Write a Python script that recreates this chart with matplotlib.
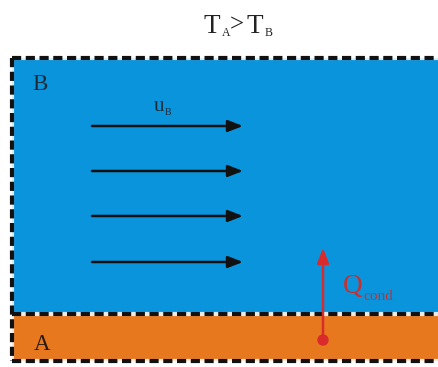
import matplotlib.pyplot as plt
from matplotlib.patches import Rectangle, Circle

# layer boundaries (pixel coords of the drawing)
left = 12
top_b = 58
interface = 314
bottom_a = 361
# flow arrows in layer B
flow_y = [126, 171, 216, 262]
flow_x0, flow_x1 = 92, 243
# conduction arrow
q_x = 323
q_y0, q_y1 = 340, 248

blue = '#0994DC'
orange = '#E8781E'
red = '#D92B2B'
ink = '#1c2a38'
serif = 'Liberation Serif'

fig = plt.figure(figsize=(4.39, 3.67), dpi=100)
ax = fig.add_axes([0, 0, 1, 1])
ax.set_xlim(0, 439)
ax.set_ylim(367, 0)
ax.axis('off')

ax.add_patch(Rectangle((left, top_b), 439 - left, interface - top_b, color=blue, lw=0))
ax.add_patch(Rectangle((left, interface), 439 - left, bottom_a - interface, color=orange, lw=0))

# dashed borders
def dashed(xs, ys):
    ax.plot(xs, ys, color='white', lw=3, solid_capstyle='butt', zorder=3, alpha=0.85)
    ax.plot(xs, ys, color='#111111', lw=3, dashes=(2.2, 1.1), zorder=4)

dashed([left, 439], [top_b, top_b])
dashed([left, 439], [interface, interface])
dashed([left, 439], [bottom_a, bottom_a])
dashed([left, left], [top_b, bottom_a])

for y in flow_y:
    ax.annotate('', xy=(flow_x1, y), xytext=(flow_x0, y),
                arrowprops=dict(arrowstyle='-|>,head_length=0.9,head_width=0.35',
                                color='#111111', lw=1.8, shrinkA=0, shrinkB=0))

ax.annotate('', xy=(q_x, q_y1), xytext=(q_x, q_y0),
            arrowprops=dict(arrowstyle='-|>,head_length=0.9,head_width=0.35',
                            color=red, lw=1.8, shrinkA=0, shrinkB=0), zorder=6)
ax.add_patch(Circle((q_x, q_y0), 5, color=red, zorder=7))

def t(x, y, s, size, color='#222222'):
    ax.text(x, y, s, fontsize=size, family=serif, color=color, ha='left', va='baseline')

# title T_A > T_B
t(204, 33, 'T', 19.5)
t(222, 36, 'A', 8.5)
t(230, 31, '>', 18)
t(247, 33, 'T', 19.5)
t(265, 36, 'B', 8.5)

t(32, 90, 'B', 16.5, ink)
t(34, 350, 'A', 16.5, '#2a1a10')

t(154, 111, 'u', 15, ink)
t(165, 115, 'B', 7, ink)

t(343, 293, 'Q', 19.5, '#C8302E')
t(363, 300, 'cond', 11, '#C8302E')

fig.savefig('out.png', dpi=100)
